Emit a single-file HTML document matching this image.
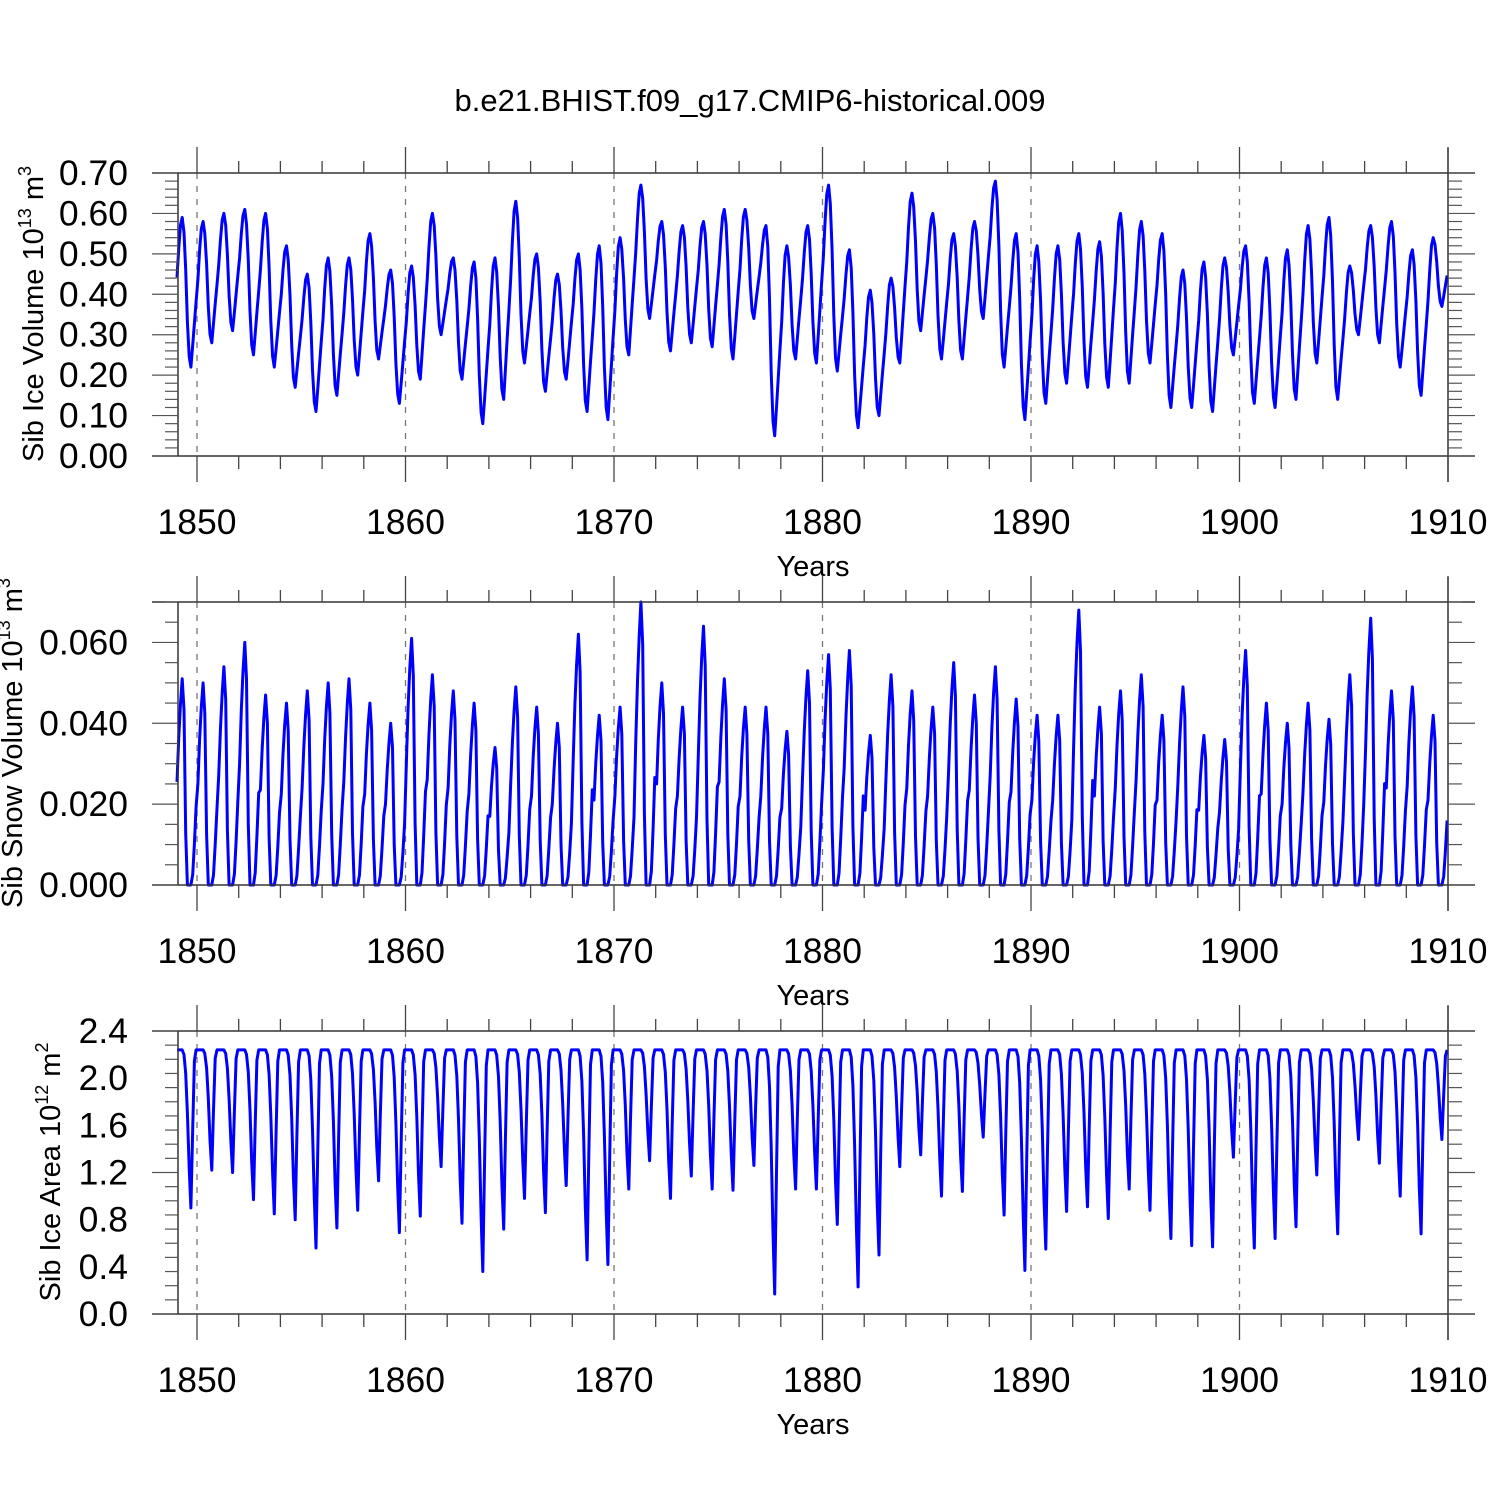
<!DOCTYPE html>
<html><head><meta charset="utf-8"><style>
html,body{margin:0;padding:0;background:#fff;}
svg{display:block;font-family:"Liberation Sans",Arial,sans-serif;}
</style></head><body>
<svg id="chart" width="1500" height="1500" viewBox="0 0 1500 1500" xmlns="http://www.w3.org/2000/svg">
<rect x="0" y="0" width="1500" height="1500" fill="#fff"/>
<text x="750" y="111" font-size="31" text-anchor="middle">b.e21.BHIST.f09_g17.CMIP6-historical.009</text>
<text transform="translate(43,314) rotate(-90)" font-size="29" text-anchor="middle">Sib Ice Volume 10<tspan font-size="18" dy="-12">13</tspan><tspan dy="12"> m</tspan><tspan font-size="18" dy="-12">3</tspan></text>
<text transform="translate(22,743) rotate(-90)" font-size="29" text-anchor="middle">Sib Snow Volume 10<tspan font-size="18" dy="-12">13</tspan><tspan dy="12"> m</tspan><tspan font-size="18" dy="-12">3</tspan></text>
<text transform="translate(60,1172) rotate(-90)" font-size="29" text-anchor="middle">Sib Ice Area 10<tspan font-size="18" dy="-12">12</tspan><tspan dy="12"> m</tspan><tspan font-size="18" dy="-12">2</tspan></text>
<g id="plots"></g>
</svg>
<script>
// ---- data (annual peaks / troughs, 1849..1909) ----
const years = [1849,1850,1851,1852,1853,1854,1855,1856,1857,1858,1859,1860,1861,1862,1863,1864,1865,1866,1867,1868,1869,1870,1871,1872,1873,1874,1875,1876,1877,1878,1879,1880,1881,1882,1883,1884,1885,1886,1887,1888,1889,1890,1891,1892,1893,1894,1895,1896,1897,1898,1899,1900,1901,1902,1903,1904,1905,1906,1907,1908,1909];
const volPeak = [0.59,0.58,0.60,0.61,0.60,0.52,0.45,0.49,0.49,0.55,0.46,0.47,0.60,0.49,0.48,0.49,0.63,0.50,0.45,0.50,0.52,0.54,0.67,0.58,0.57,0.58,0.61,0.61,0.57,0.52,0.57,0.67,0.51,0.41,0.44,0.65,0.60,0.55,0.58,0.68,0.55,0.52,0.52,0.55,0.53,0.60,0.58,0.55,0.46,0.48,0.49,0.52,0.49,0.51,0.57,0.59,0.47,0.57,0.58,0.51,0.54];
const volTrough = [0.22,0.28,0.31,0.25,0.22,0.17,0.11,0.15,0.20,0.24,0.13,0.19,0.30,0.19,0.08,0.14,0.23,0.16,0.19,0.11,0.09,0.25,0.34,0.26,0.28,0.27,0.24,0.34,0.05,0.24,0.23,0.21,0.07,0.10,0.23,0.31,0.24,0.24,0.34,0.22,0.09,0.13,0.18,0.17,0.17,0.18,0.23,0.12,0.12,0.11,0.25,0.13,0.12,0.14,0.23,0.14,0.30,0.28,0.22,0.15,0.37];
const snowPeak = [0.051,0.050,0.054,0.060,0.047,0.045,0.048,0.050,0.051,0.045,0.040,0.061,0.052,0.048,0.045,0.034,0.049,0.044,0.040,0.062,0.042,0.044,0.070,0.050,0.044,0.064,0.051,0.044,0.044,0.038,0.053,0.057,0.058,0.037,0.052,0.048,0.044,0.055,0.047,0.054,0.046,0.042,0.042,0.068,0.044,0.048,0.052,0.042,0.049,0.037,0.036,0.058,0.045,0.040,0.045,0.041,0.052,0.066,0.048,0.049,0.042];
const areaMax = 2.24;
const areaMin = [0.90,1.22,1.20,0.97,0.85,0.80,0.56,0.73,0.88,1.13,0.69,0.83,1.25,0.77,0.36,0.72,0.98,0.86,1.09,0.46,0.42,1.06,1.30,0.98,1.17,1.06,1.05,1.26,0.17,1.06,1.06,0.76,0.23,0.50,1.25,1.35,1.00,1.04,1.50,0.84,0.37,0.55,0.87,0.91,0.81,1.06,0.88,0.64,0.58,0.57,1.33,0.56,0.64,0.74,1.18,0.68,1.48,1.28,1.00,0.68,1.48];
// monthly seasonal cycle fractions (Jan..Dec)
const volShape = [0.6,0.8,0.95,1.0,0.9,0.65,0.3,0.07,0.0,0.15,0.3,0.45];
const snowShape = [0.5,0.72,0.88,1.0,0.85,0.25,0.0,0.0,0.0,0.05,0.2,0.38];
const areaShape = [1,1,1,1,0.97,0.85,0.6,0.25,0.0,0.5,0.93,1];
// tick labels
const xTicks = [1850,1860,1870,1880,1890,1900,1910];
const volTicks = ["0.00","0.10","0.20","0.30","0.40","0.50","0.60","0.70"];
const snowTicks = ["0.000","0.020","0.040","0.060"];
const areaTicks = ["0.0","0.4","0.8","1.2","1.6","2.0","2.4"];

const NS = "http://www.w3.org/2000/svg";
const root = document.getElementById('plots');
function mk(tag, attrs, parent){
  const e = document.createElementNS(NS, tag);
  for (const k in attrs) e.setAttribute(k, attrs[k]);
  (parent||root).appendChild(e);
  return e;
}
const X0 = 178, X1 = 1448, FL = 152, FR = 1475;
const xScale = t => 197 + (t - 1850) * (1448 - 197) / 60;

const volSeries = [], snowSeries = [], areaSeries = [];
for (let i = 0; i < years.length; i++) {
  for (let m = 0; m < 12; m++) {
    const t = years[i] + (m + 0.5) / 12;
    let v;
    if (m <= 3) { const tr = volTrough[Math.max(i-1,0)]; v = tr + volShape[m]*(volPeak[i]-tr); }
    else if (m <= 8) { v = volTrough[i] + volShape[m]*(volPeak[i]-volTrough[i]); }
    else { const pk = volPeak[Math.min(i+1,years.length-1)]; v = volTrough[i] + volShape[m]*(pk-volTrough[i]); }
    volSeries.push([t, v]);
    snowSeries.push([t, snowPeak[i]*snowShape[m]]);
    areaSeries.push([t, areaMin[i] + (areaMax-areaMin[i])*areaShape[m]]);
  }
}

function panel(name, top, ymax, majorStep, minorStep, labels, series) {
  const bot = top + 283;
  const yScale = v => bot - v / ymax * 283;
  const g = mk('g', {});
  
  
  for (let k = 0; k < 6; k++) {
    const l = mk('line', {x1: xScale(xTicks[k]), x2: xScale(xTicks[k]), y1: top, y2: bot, stroke: '#777', 'stroke-width': 1.3, 'stroke-dasharray': '6,7'}, g);
    
    
  }
  const d = series.map((p, i) => (i ? 'L' : 'M') + xScale(p[0]).toFixed(1) + ',' + yScale(p[1]).toFixed(1)).join('');
  const path = mk('path', {d: d, fill: 'none', stroke: '#0000ff', 'stroke-width': 3, 'stroke-linejoin': 'round'}, g);
  
  
  const fr = mk('path', {d: `M${FL},${top}H${FR}M${FL},${bot}H${FR}M${X0},${top}V${bot}M${X1},${top - 25}V${bot + 26}`, stroke: '#333', 'stroke-width': 1.5, fill: 'none'}, g);
  
  
  const nMinor = Math.round(ymax / minorStep);
  for (let k = 0; k <= nMinor; k++) {
    const v = k * minorStep, y = yScale(v);
    const isMaj = Math.abs(v / majorStep - Math.round(v / majorStep)) < 1e-6;
    mk('line', {x1: isMaj ? FL : 165, x2: X0, y1: y, y2: y, stroke: '#555', 'stroke-width': 1.2}, g);
    mk('line', {x1: X1, x2: isMaj ? FR : 1462, y1: y, y2: y, stroke: '#555', 'stroke-width': 1.2}, g);
  }
  labels.forEach((lab, k) => {
    const t = mk('text', {x: 128, y: yScale(k * majorStep) + 12, 'font-size': 35.5, 'text-anchor': 'end'}, g);
    
    
    t.textContent = lab;
  });
  for (let yr = 1850; yr <= 1910; yr += 2) {
    const x = xScale(yr), maj = (yr % 10 === 0);
    mk('line', {x1: x, x2: x, y1: maj ? top - 26 : top - 12, y2: top, stroke: '#444', 'stroke-width': 1.3}, g);
    mk('line', {x1: x, x2: x, y1: bot, y2: maj ? bot + 26 : bot + 13, stroke: '#444', 'stroke-width': 1.3}, g);
  }
  xTicks.forEach(yr => {
    const t = mk('text', {x: xScale(yr), y: bot + 78, 'font-size': 35.5, 'text-anchor': 'middle'}, g);
    
    
    t.textContent = yr;
  });
  const xt = mk('text', {x: 813, y: bot + 120, 'font-size': 29, 'text-anchor': 'middle'}, g);
  
  
  xt.textContent = 'Years';
}
panel('ice-volume', 173, 0.70, 0.10, 0.02, volTicks, volSeries);
panel('snow-volume', 602, 0.070, 0.020, 0.005, snowTicks, snowSeries);
panel('ice-area', 1031, 2.4, 0.4, 0.12, areaTicks, areaSeries);
</script>
</body></html>
